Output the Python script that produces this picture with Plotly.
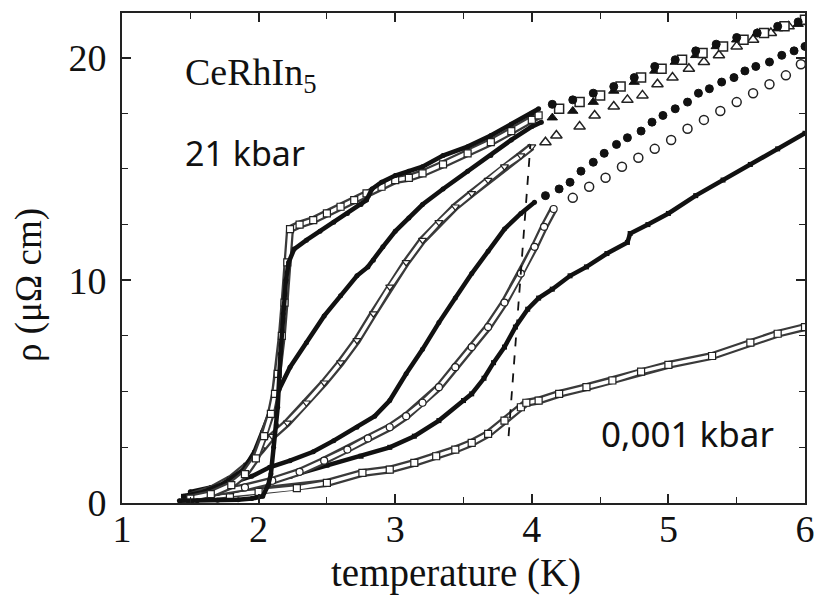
import plotly.graph_objects as go

# ---------------- data ----------------
X_TICKS = [1, 2, 3, 4, 5, 6]
Y_TICKS = [0, 10, 20]

# curve 1 (21 kbar, filled)
T1 = [1.42, 1.55, 1.7, 1.85, 1.95, 2.03, 2.07, 2.09, 2.11, 2.13, 2.14, 2.16, 2.18, 2.2, 2.22, 2.26,
      2.35, 2.45, 2.55, 2.65, 2.75, 2.79, 2.83, 2.9, 3.0, 3.1, 3.2, 3.35, 3.53, 3.7, 3.85, 4.0, 4.05]
R1 = [0.1, 0.1, 0.12, 0.15, 0.2, 0.3, 0.8, 1.3, 2.5, 3.5, 4.3, 6.7, 8.5, 10.0, 10.8, 11.4,
      11.8, 12.2, 12.6, 13.0, 13.4, 13.6, 14.1, 14.4, 14.7, 14.9, 15.1, 15.6, 16.0, 16.5, 17.0, 17.5, 17.7]
T1_HI = [4.15, 4.3, 4.45, 4.6, 4.75, 4.9, 5.05, 5.2, 5.35, 5.5, 5.65, 5.8, 5.95]
R1_HI = [17.9, 18.1, 18.4, 18.7, 19.1, 19.6, 19.9, 20.3, 20.6, 20.9, 21.1, 21.4, 21.6]

# curve 2 (open squares)
T2 = [1.5, 1.65, 1.8, 1.9, 1.98, 2.04, 2.09, 2.12, 2.14, 2.17, 2.19, 2.21, 2.23, 2.3, 2.4, 2.5,
      2.6, 2.7, 2.79, 2.9, 3.0, 3.1, 3.2, 3.35, 3.53, 3.7, 3.85, 4.0, 4.05]
R2 = [0.2, 0.4, 0.8, 1.3, 2.0, 3.0, 4.0, 4.9, 5.8, 7.5, 9.0, 10.8, 12.3, 12.5, 12.7, 13.0,
      13.3, 13.6, 13.9, 14.2, 14.5, 14.6, 14.8, 15.2, 15.7, 16.2, 16.7, 17.2, 17.4]
T2_HI = [4.2, 4.35, 4.5, 4.65, 4.8, 4.95, 5.1, 5.25, 5.4, 5.55, 5.7, 5.85, 6.0]
R2_HI = [17.7, 18.0, 18.3, 18.7, 19.1, 19.5, 19.9, 20.2, 20.5, 20.8, 21.1, 21.4, 21.7]

# curve 3 (filled)
T3 = [1.45, 1.6, 1.75, 1.89, 1.97, 2.03, 2.09, 2.15, 2.23, 2.35, 2.48, 2.6, 2.72, 2.8, 2.84,
      2.91, 3.0, 3.1, 3.2, 3.35, 3.53, 3.7, 3.85, 4.0, 4.07]
R3 = [0.3, 0.5, 0.9, 1.5, 2.3, 3.2, 4.1, 5.1, 6.1, 7.2, 8.4, 9.3, 10.2, 10.6, 10.9,
      11.5, 12.2, 12.8, 13.4, 14.1, 14.9, 15.6, 16.3, 16.9, 17.1]
T3_HI = [4.15, 4.3, 4.45, 4.6, 4.75, 4.9, 5.05, 5.2, 5.35, 5.5, 5.65, 5.8, 5.95]
R3_HI = [17.3, 17.6, 18.0, 18.5, 18.9, 19.4, 19.8, 20.1, 20.5, 20.8, 21.1, 21.3, 21.5]

# curve 4 (open triangles)
T4 = [1.5, 1.65, 1.8, 1.92, 2.02, 2.1, 2.21, 2.35, 2.48, 2.6, 2.72, 2.84, 2.96, 3.08, 3.2,
      3.32, 3.44, 3.56, 3.68, 3.8, 3.92, 4.0]
R4 = [0.3, 0.6, 1.1, 1.7, 2.4, 3.0, 3.6, 4.5, 5.4, 6.3, 7.3, 8.5, 9.7, 10.8, 11.8,
      12.6, 13.3, 13.9, 14.5, 15.1, 15.6, 16.0]
T4_HI = [4.1, 4.18, 4.35, 4.46, 4.6, 4.7, 4.81, 4.92, 5.03, 5.15, 5.26, 5.37, 5.5, 5.62, 5.75, 5.88, 6.0]
R4_HI = [16.2, 16.5, 16.9, 17.4, 17.8, 18.1, 18.3, 18.8, 19.1, 19.5, 19.8, 20.1, 20.5, 20.8, 21.1, 21.4, 21.6]

# curve 5 (filled circles)
T5 = [1.5, 1.65, 1.8, 1.95, 2.08, 2.23, 2.4, 2.55, 2.72, 2.85, 2.96, 3.08, 3.2, 3.32, 3.44,
      3.56, 3.68, 3.8, 3.92, 4.02]
R5 = [0.5, 0.7, 0.9, 1.2, 1.6, 1.9, 2.3, 2.8, 3.4, 3.9, 4.6, 5.8, 6.9, 8.1, 9.2,
      10.3, 11.3, 12.3, 13.0, 13.5]
T5_HI = [4.1, 4.2, 4.28, 4.36, 4.45, 4.53, 4.62, 4.7, 4.8, 4.88, 4.96, 5.05, 5.14, 5.22, 5.3,
         5.39, 5.48, 5.56, 5.64, 5.74, 5.83, 5.92, 6.0]
R5_HI = [13.8, 14.1, 14.4, 14.9, 15.3, 15.7, 16.1, 16.4, 16.7, 17.1, 17.4, 17.7, 18.0, 18.4, 18.6,
         18.9, 19.1, 19.4, 19.6, 19.8, 20.1, 20.3, 20.5]

# curve 6 (open circles)
T6 = [1.5, 1.7, 1.9, 2.1, 2.3, 2.48, 2.65, 2.8, 2.96, 3.08, 3.2, 3.32, 3.44, 3.56, 3.68,
      3.8, 3.92, 4.02, 4.09, 4.16]
R6 = [0.3, 0.5, 0.7, 1.0, 1.4, 1.9, 2.4, 2.9, 3.4, 3.9, 4.5, 5.2, 6.1, 7.0, 7.9,
      9.0, 10.3, 11.5, 12.4, 13.2]
T6_HI = [4.3, 4.42, 4.54, 4.66, 4.78, 4.9, 5.02, 5.14, 5.26, 5.38, 5.5, 5.62, 5.74, 5.86, 5.97]
R6_HI = [13.7, 14.2, 14.6, 15.1, 15.5, 15.9, 16.3, 16.8, 17.2, 17.6, 18.0, 18.4, 18.8, 19.2, 19.7]

# curve 7 (filled squares)
T7 = [1.45, 1.6, 1.8, 2.0, 2.23, 2.5, 2.75, 2.96, 3.14, 3.32, 3.5, 3.56, 3.65, 3.72, 3.8, 3.88,
      3.97, 4.05, 4.15, 4.28, 4.4, 4.55, 4.7, 4.72, 4.85, 5.0, 5.2, 5.4, 5.6, 5.8, 6.0]
R7 = [0.3, 0.4, 0.5, 0.8, 1.2, 1.7, 2.1, 2.5, 3.0, 3.7, 4.6, 4.9, 5.6, 6.3, 7.0, 7.9,
      8.7, 9.2, 9.6, 10.2, 10.6, 11.2, 11.7, 12.1, 12.5, 13.0, 13.8, 14.5, 15.2, 15.9, 16.6]

# curve 8 (0.001 kbar, open squares)
T8 = [1.5, 1.65, 1.79, 2.0, 2.28, 2.5, 2.76, 2.96, 3.14, 3.3, 3.44, 3.56, 3.68, 3.8, 3.92, 3.96,
      4.05, 4.2, 4.4, 4.59, 4.8, 5.0, 5.32, 5.6, 5.8, 6.0]
R8 = [0.2, 0.3, 0.36, 0.5, 0.67, 0.9, 1.35, 1.5, 1.8, 2.1, 2.4, 2.7, 3.1, 3.7, 4.3, 4.5,
      4.6, 4.9, 5.2, 5.5, 5.9, 6.2, 6.6, 7.2, 7.6, 7.9]

# dashed guide line
T_DASH = [3.83, 3.99]
R_DASH = [3.0, 16.1]

INK = "#111111"
fig = go.Figure()


def open_curve(T, R, sym):
    fig.add_trace(go.Scatter(x=T, y=R, mode="lines", line=dict(color="#3a3a3a", width=8),
                             hoverinfo="skip", showlegend=False))
    fig.add_trace(go.Scatter(x=T, y=R, mode="lines+markers", line=dict(color="white", width=3.5),
                             marker=dict(symbol=sym, size=7, color="white",
                                         line=dict(color="#222", width=1.2)),
                             hoverinfo="skip", showlegend=False))


def filled_curve(T, R, sym):
    fig.add_trace(go.Scatter(x=T, y=R, mode="lines+markers", line=dict(color=INK, width=4.5),
                             marker=dict(symbol=sym, size=5, color=INK),
                             hoverinfo="skip", showlegend=False))


def sparse(T, R, sym, size, filled):
    if filled:
        mk = dict(symbol=sym, size=size, color=INK, line=dict(color=INK, width=1))
    else:
        mk = dict(symbol=sym, size=size, color="white", line=dict(color="#222", width=1.5))
    fig.add_trace(go.Scatter(x=T, y=R, mode="markers", marker=mk,
                             hoverinfo="skip", showlegend=False))


open_curve(T8, R8, "square")
filled_curve(T7, R7, "square")
open_curve(T6, R6, "circle")
filled_curve(T5, R5, "circle")
open_curve(T4, R4, "triangle-down")
filled_curve(T3, R3, "circle")
open_curve(T2, R2, "square")
filled_curve(T1, R1, "circle")

sparse(T6_HI, R6_HI, "circle", 9, False)
sparse(T5_HI, R5_HI, "circle", 8, True)
sparse(T4_HI, R4_HI, "triangle-up", 10, False)
sparse(T3_HI, R3_HI, "triangle-up", 9, True)
sparse(T2_HI, R2_HI, "square", 9, False)
sparse(T1_HI, R1_HI, "circle", 8, True)

fig.add_trace(go.Scatter(x=T_DASH, y=R_DASH, mode="lines",
                         line=dict(color=INK, width=1.8, dash="dash"),
                         hoverinfo="skip", showlegend=False))

serif = "Liberation Serif, Times New Roman, serif"
sans = "Noto Sans, DejaVu Sans, sans-serif"

axis_common = dict(ticks="inside", ticklen=9, tickwidth=1.5, tickcolor="#222",
                   showline=True, linewidth=2, linecolor="#222", mirror="ticks",
                   showgrid=False, zeroline=False,
                   tickfont=dict(family=serif, size=38, color=INK))

fig.update_xaxes(range=[1, 6], tickmode="array", tickvals=X_TICKS,
                 ticktext=[str(v) for v in X_TICKS],
                 minor=dict(dtick=0.5, tick0=1, ticks="inside", ticklen=6, tickwidth=1.2,
                            tickcolor="#222", showgrid=False),
                 ticklabelstandoff=-9,
                 **axis_common)
fig.update_yaxes(range=[0, 22], tickmode="array", tickvals=Y_TICKS,
                 ticktext=[str(v) for v in Y_TICKS],
                 minor=dict(dtick=2.5, tick0=0, ticks="inside", ticklen=6, tickwidth=1.2,
                            tickcolor="#222", showgrid=False),
                 ticklabelstandoff=6,
                 **axis_common)

fig.update_layout(
    width=826, height=596,
    margin=dict(l=122, r=11, t=13, b=93),
    plot_bgcolor="white", paper_bgcolor="white",
    showlegend=False,
    annotations=[
        dict(text="CeRhIn<sub>5</sub>", x=1.45, y=19.2, xref="x", yref="y",
             xanchor="left", yanchor="middle", showarrow=False,
             font=dict(family=serif, size=38, color=INK)),
        dict(text="21 kbar", x=1.45, y=15.7, xref="x", yref="y",
             xanchor="left", yanchor="middle", showarrow=False,
             font=dict(family=sans, size=34, color=INK)),
        dict(text="0,001 kbar", x=4.49, y=3.1, xref="x", yref="y",
             xanchor="left", yanchor="middle", showarrow=False,
             font=dict(family=sans, size=35, color=INK)),
        dict(text="temperature (K)", x=0.489, y=-0.143, xref="paper", yref="paper",
             xanchor="center", yanchor="middle", showarrow=False,
             font=dict(family=serif, size=39, color=INK)),
        dict(text="ρ (μΩ cm)", x=-0.136, y=0.445, xref="paper", yref="paper",
             xanchor="center", yanchor="middle", showarrow=False, textangle=-90,
             font=dict(family=serif, size=37, color=INK)),
    ],
)

fig.write_html("out.html")
